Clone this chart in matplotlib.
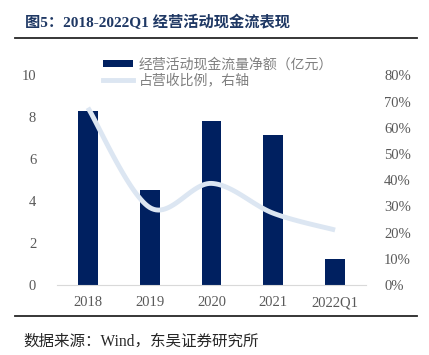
import numpy as np
import matplotlib
matplotlib.use("Agg")
import matplotlib.pyplot as plt
from matplotlib.lines import Line2D
from matplotlib.patches import Patch

# 数据
years = ["2018", "2019", "2020", "2021", "2022Q1"]
cash_flow = [8.29, 4.52, 7.81, 7.16, 1.22]      # 经营活动现金流量净额（亿元）
ratio = [67.7, 29.6, 38.8, 27.4, 21.0]         # 占营收比例（%）

NAVY = "#002060"
LINE = "#DCE6F2"
GRAY = "#595959"
SERIF = ["Liberation Serif", "Noto Sans CJK SC"]

plt.rcParams["font.family"] = SERIF

fig = plt.figure(figsize=(4.29, 3.55), dpi=100)
ax = fig.add_axes([57 / 429, 70 / 355, 309 / 429, 209.5 / 355])
x = np.arange(len(years))

ax.bar(x, cash_flow, width=0.32, color=NAVY, zorder=2)
ax.set_xlim(-0.5, len(years) - 0.5)
ax.set_ylim(0, 10)
ax.set_yticks([0, 2, 4, 6, 8, 10])
ax.set_xticks(x)
ax.set_xticklabels(years)

for s in ["top", "right", "left"]:
    ax.spines[s].set_visible(False)
ax.spines["bottom"].set_color("#D9D9D9")
ax.tick_params(axis="both", length=0, labelsize=10.5, labelcolor=GRAY)
ax.tick_params(axis="y", pad=15)
ax.tick_params(axis="x", pad=8)

# 右轴：平滑曲线（Catmull-Rom）
ax2 = ax.twinx()
ax2.set_ylim(0, 80)
ax2.set_yticks(range(0, 81, 10))
ax2.set_yticklabels([f"{v}%" for v in range(0, 81, 10)])
for s in ax2.spines.values():
    s.set_visible(False)
ax2.tick_params(axis="y", length=0, labelsize=10.5, labelcolor=GRAY, pad=13)

pts = np.column_stack([x, ratio]).astype(float)
ext = np.vstack([pts[0], pts, pts[-1]])
curve = []
for i in range(1, len(ext) - 2):
    p0, p1, p2, p3 = ext[i - 1], ext[i], ext[i + 1], ext[i + 2]
    c1 = p1 + (p2 - p0) / 6
    c2 = p2 - (p3 - p1) / 6
    for t in np.linspace(0, 1, 30):
        b = (1 - t) ** 3 * p1 + 3 * (1 - t) ** 2 * t * c1 + 3 * (1 - t) * t ** 2 * c2 + t ** 3 * p2
        curve.append(b)
curve = np.array(curve)
ax2.plot(curve[:, 0], curve[:, 1], color=LINE, lw=3.5, solid_capstyle="butt", zorder=3)

# 图例
handles = [Patch(facecolor=NAVY, edgecolor="none"),
           Line2D([0], [0], color=LINE, lw=3.5)]
labels = ["经营活动现金流量净额（亿元）", "占营收比例，右轴"]
fig.legend(handles, labels, loc="upper left", bbox_to_anchor=(90 / 429, 1 - 45 / 355),
           frameon=False, labelcolor="#7F7F7F", handlelength=2.2,
           handleheight=0.45, handletextpad=0.4, labelspacing=0.1,
           prop={"family": ["Noto Sans CJK SC"], "size": 10})

# 标题、横线、来源
fig.text(25 / 429, 1 - 22 / 355, "图5：2018-2022Q1 经营活动现金流表现", fontsize=11,
         fontweight="bold", color="#1F3864", va="center", ha="left", family=SERIF)
fig.add_artist(Line2D([15 / 429, 417 / 429], [1 - 37.7 / 355] * 2, color="#262626", lw=1.3))
fig.add_artist(Line2D([15 / 429, 417 / 429], [1 - 315.7 / 355] * 2, color="#262626", lw=1.3))
fig.text(23 / 429, 1 - 342 / 355, "数据来源：Wind，东吴证券研究所", fontsize=11.2,
         color="#262626", va="center", ha="left", family=SERIF)

fig.savefig("out.png", dpi=100)
